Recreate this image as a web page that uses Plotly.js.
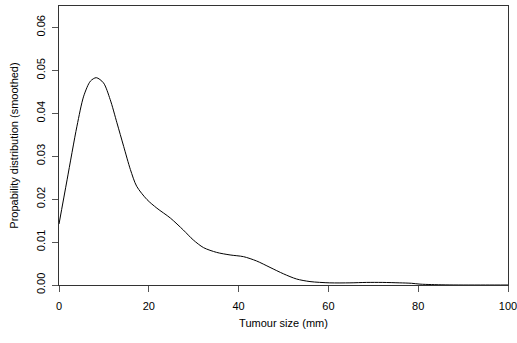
<!DOCTYPE html>
<html>
<head>
<meta charset="utf-8">
<script src="https://cdn.plot.ly/plotly-3.0.1.min.js"></script>
<style>html,body{margin:0;padding:0;background:#fff;}#chart{width:517px;height:343px;}</style>
</head>
<body>
<div id="chart"></div>
<script>
var sizeMm = [0, 1.8, 4.0, 5.5, 7.0, 8.3, 9.9, 11.4, 12.9, 14.4, 15.9, 17.3, 19.6, 21.8, 24.8, 27.7, 29.9, 32.2, 35.1, 38.1, 41.1, 44.0, 47.0, 50.0, 52.9, 55.9, 60.3, 64.8, 68.5, 72.0, 75.9, 78.5, 80.4, 83.0, 86.0, 90.0, 95.0, 100.0];
var density = [0.0142, 0.0245, 0.0370, 0.0440, 0.0475, 0.0483, 0.0471, 0.0432, 0.0378, 0.0323, 0.0269, 0.0230, 0.0199, 0.0179, 0.0156, 0.0128, 0.0105, 0.0087, 0.0076, 0.0070, 0.0066, 0.0056, 0.0041, 0.0026, 0.0014, 0.0008, 0.0005, 0.0005, 0.0006, 0.0006, 0.0005, 0.0004, 0.0002, 0.0001, 0.00003, 0.0, 0.0, 0.0];
var xTicks = [0, 20, 40, 60, 80, 100];
var yTicks = [0.00, 0.01, 0.02, 0.03, 0.04, 0.05, 0.06];

var trace = {
  x: sizeMm, y: density, type: 'scatter', mode: 'lines',
  line: {color: '#000', width: 1, shape: 'spline', smoothing: 0.8},
  hoverinfo: 'none'
};
var font = {family: 'Liberation Sans, Arial, sans-serif', size: 11, color: '#000'};
var layout = {
  width: 517, height: 343,
  margin: {l: 59, r: 9, t: 6, b: 58},
  paper_bgcolor: '#fff', plot_bgcolor: '#fff',
  showlegend: false,
  font: font,
  xaxis: {
    range: [0, 100], tickvals: xTicks, ticktext: xTicks.map(String),
    ticks: 'outside', ticklen: 6, tickcolor: '#555', tickwidth: 1,
    ticklabelstandoff: 5, ticklabeloverflow: 'allow',
    showline: true, linecolor: '#333', linewidth: 1, mirror: true,
    showgrid: false, zeroline: false,
    tickfont: font,
    title: {text: 'Tumour size (mm)', font: font, standoff: 8}
  },
  yaxis: {
    range: [0, 0.065], tickvals: yTicks, ticktext: yTicks.map(function(v){return v.toFixed(2);}),
    tickangle: -90,
    ticks: 'outside', ticklen: 6, tickcolor: '#555', tickwidth: 1,
    ticklabelstandoff: 3, ticklabeloverflow: 'allow',
    showline: true, linecolor: '#333', linewidth: 1, mirror: true,
    showgrid: false, zeroline: false,
    tickfont: font,
    title: {text: 'Propability distribution (smoothed)', font: font, standoff: 13}
  }
};
Plotly.newPlot('chart', [trace], layout, {staticPlot: true, displayModeBar: false});
</script>
</body>
</html>
